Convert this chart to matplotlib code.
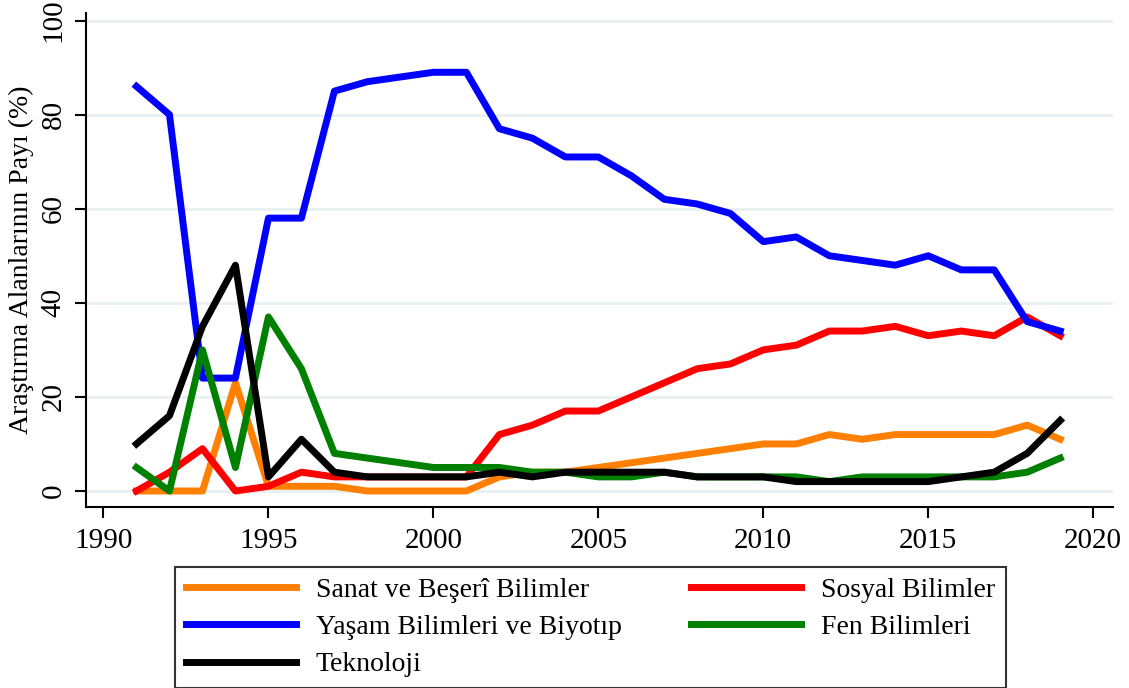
import matplotlib
matplotlib.use("Agg")
import matplotlib.pyplot as plt

years = list(range(1991, 2020))

sanat = [0, 0, 0, 23, 1, 1, 1, 0, 0, 0, 0, 3, 4, 4, 5, 6, 7, 8, 9, 10,
         10, 12, 11, 12, 12, 12, 12, 14, 11]
sosyal = [0, 4, 9, 0, 1, 4, 3, 3, 3, 3, 3, 12, 14, 17, 17, 20, 23, 26, 27, 30,
          31, 34, 34, 35, 33, 34, 33, 37, 33]
yasam = [86, 80, 24, 24, 58, 58, 85, 87, 88, 89, 89, 77, 75, 71, 71, 67, 62, 61, 59, 53,
         54, 50, 49, 48, 50, 47, 47, 36, 34]
fen = [5, 0, 30, 5, 37, 26, 8, 7, 6, 5, 5, 5, 4, 4, 3, 3, 4, 3, 3, 3,
       3, 2, 3, 3, 3, 3, 3, 4, 7]
teknoloji = [10, 16, 35, 48, 3, 11, 4, 3, 3, 3, 3, 4, 3, 4, 4, 4, 4, 3, 3, 3,
             2, 2, 2, 2, 2, 3, 4, 8, 15]

plt.rcParams['font.family'] = ['Liberation Serif', 'DejaVu Serif']

fig = plt.figure(figsize=(11.29, 6.88), dpi=100)
ax = fig.add_axes([86/1129, 1-507/688, (1113-86)/1129, (507-13)/688])

lw = 5
l1, = ax.plot(years, sanat, color='#ff8000', lw=lw, label='Sanat ve Beşerî Bilimler')
l2, = ax.plot(years, sosyal, color='#ff0000', lw=lw, label='Sosyal Bilimler')
l3, = ax.plot(years, yasam, color='#0000ff', lw=lw, label='Yaşam Bilimleri ve Biyotıp')
l4, = ax.plot(years, fen, color='#008000', lw=lw, label='Fen Bilimleri')
l5, = ax.plot(years, teknoloji, color='#000000', lw=lw, label='Teknoloji')

ax.set_xlim(1989.47, 2020.6)
ax.set_ylim(-3.4, 101.6)
ax.set_xticks([1990, 1995, 2000, 2005, 2010, 2015, 2020])
ax.set_yticks([0, 20, 40, 60, 80, 100])
ax.grid(axis='y', color='#e8f0f2', lw=2)
ax.set_axisbelow(True)

for s in ['top', 'right']:
    ax.spines[s].set_visible(False)
for s in ['left', 'bottom']:
    ax.spines[s].set_linewidth(1.5)

ax.tick_params(axis='x', labelsize=21, length=8, width=1.5, pad=7)
ax.tick_params(axis='y', labelsize=21, length=8, width=1.5, pad=6)
for t in ax.get_yticklabels():
    t.set_rotation(90)
    t.set_va('center')
ax.set_ylabel('Araştırma Alanlarının Payı (%)', fontsize=20, labelpad=5)

fig.legend([l1, l3, l5, l2, l4],
           [l1.get_label(), l3.get_label(), l5.get_label(), l2.get_label(), l4.get_label()],
           loc='upper left', bbox_to_anchor=(175/1129, 1-567/688), ncol=2,
           fontsize=20, frameon=True, fancybox=False, edgecolor='black',
           handlelength=3.96, handletextpad=0.72, columnspacing=2.5,
           labelspacing=0.42, borderpad=0.38, borderaxespad=0)
leg = fig.legends[0]
leg.get_frame().set_linewidth(1.5)
for h in leg.get_lines():
    h.set_linewidth(5)

fig.savefig('out.png', dpi=100)
